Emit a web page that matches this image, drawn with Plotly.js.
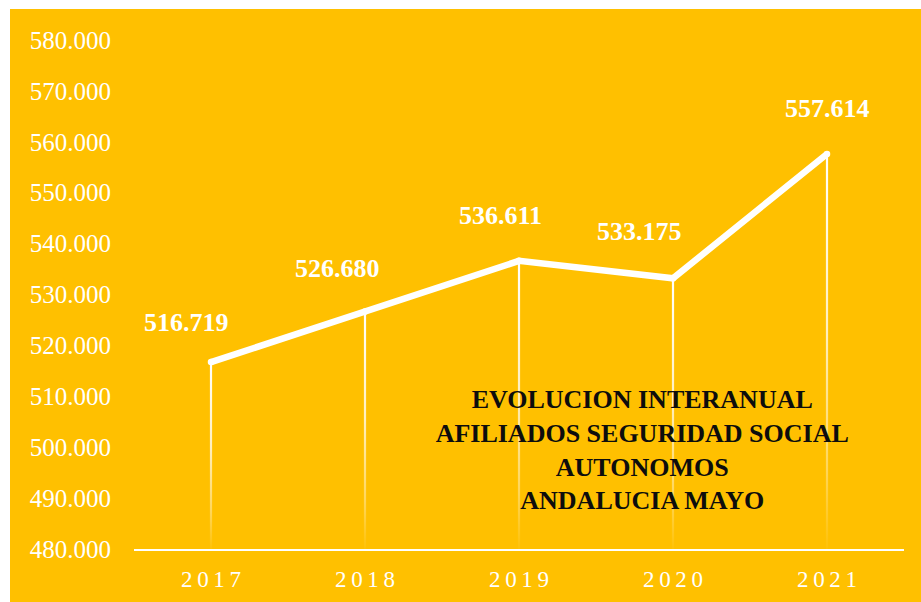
<!DOCTYPE html>
<html>
<head>
<meta charset="utf-8">
<script src="https://cdn.plot.ly/plotly-3.0.1.min.js"></script>
<style>
  html, body { margin: 0; padding: 0; background: #ffffff; overflow: hidden; }
  #chart { position: absolute; left: 10px; top: 9px; width: 911px; height: 593px; }
</style>
</head>
<body>
<div id="chart"></div>
<script>
// Data
const years = ['2017', '2018', '2019', '2020', '2021'];
const afiliados = [516719, 526680, 536611, 533175, 557614];
const baseValue = 480000;
const tickValues = [480000, 490000, 500000, 510000, 520000, 530000, 540000, 550000, 560000, 570000, 580000];
const titleLines = ['EVOLUCION INTERANUAL', 'AFILIADOS SEGURIDAD SOCIAL', 'AUTONOMOS', 'ANDALUCIA MAYO'];

// Label placement (styling, not data)
const labelShiftX = [-25, -28, -19, -34, 0];
const labelShiftY = [40, 43, 45, 47, 45];

function fmt(v) {
  return String(v).replace(/\B(?=(\d{3})+(?!\d))/g, '.');
}

const serif = '"Liberation Serif", "DejaVu Serif", serif';
const yellow = '#FFC000';

const trace = {
  type: 'scatter',
  mode: 'lines+markers',
  x: years,
  y: afiliados,
  line: { color: '#ffffff', width: 6.5 },
  marker: { color: '#ffffff', size: 6.5 },
  error_y: {
    type: 'data',
    symmetric: false,
    array: afiliados.map(() => 0),
    arrayminus: afiliados.map(v => v - baseValue),
    color: '#ffffff',
    thickness: 2.2,
    width: 0
  },
  hoverinfo: 'skip',
  showlegend: false
};

const annotations = years.map((yr, i) => ({
  x: i,
  y: afiliados[i],
  xref: 'x',
  yref: 'y',
  text: '<b>' + fmt(afiliados[i]) + '</b>',
  showarrow: false,
  xanchor: 'center',
  yanchor: 'middle',
  xshift: labelShiftX[i],
  yshift: labelShiftY[i],
  font: { family: serif, size: 26, color: '#ffffff' }
}));

const layout = {
  width: 911,
  height: 593,
  paper_bgcolor: yellow,
  plot_bgcolor: yellow,
  separators: ',.',
  margin: { l: 124, r: 17, t: 31, b: 53 },
  title: {
    text: '<b>' + titleLines.join('<br>') + '</b>',
    xref: 'container',
    yref: 'container',
    x: 0.694,
    y: 0.327,
    xanchor: 'center',
    yanchor: 'middle',
    font: { family: serif, size: 26, color: '#0d0d0d' }
  },
  xaxis: {
    type: 'category',
    range: [-0.5, 4.5],
    tickvals: years,
    ticktext: years.map(y => y.split('').join('\u2009')),
    showline: true,
    linecolor: '#ffffff',
    linewidth: 2,
    showgrid: false,
    zeroline: false,
    ticks: '',
    tickfont: { family: serif, size: 23, color: '#ffffff' },
    ticklabelstandoff: 8
  },
  yaxis: {
    range: [480000, 580000],
    tickvals: tickValues,
    tickformat: ',.0f',
    showgrid: false,
    zeroline: false,
    showline: false,
    ticks: 'outside',
    ticklen: 17,
    tickcolor: 'rgba(0,0,0,0)',
    tickfont: { family: serif, size: 25, color: '#ffffff' }
  },
  annotations: annotations
};

Plotly.newPlot('chart', [trace], layout, { staticPlot: true, displayModeBar: false }).then(gd => {
  // Fade the drop lines toward the axis (visual styling only)
  const svg = gd.querySelector('svg.main-svg');
  const NS = 'http://www.w3.org/2000/svg';
  let defs = svg.querySelector('defs');
  if (!defs) { defs = document.createElementNS(NS, 'defs'); svg.insertBefore(defs, svg.firstChild); }
  gd.querySelectorAll('.errorbar path').forEach((p, i) => {
    const bb = p.getBBox();
    const g = document.createElementNS(NS, 'linearGradient');
    g.setAttribute('id', 'dropfade' + i);
    g.setAttribute('gradientUnits', 'userSpaceOnUse');
    g.setAttribute('x1', bb.x); g.setAttribute('x2', bb.x);
    g.setAttribute('y1', bb.y); g.setAttribute('y2', bb.y + bb.height);
    [[0, 1], [0.45, 0.75], [0.8, 0.35], [1, 0.03]].forEach(([o, a]) => {
      const s = document.createElementNS(NS, 'stop');
      s.setAttribute('offset', o);
      s.setAttribute('stop-color', '#ffffff');
      s.setAttribute('stop-opacity', a);
      g.appendChild(s);
    });
    defs.appendChild(g);
    p.style.stroke = 'url(#dropfade' + i + ')';
  });
});
</script>
</body>
</html>
